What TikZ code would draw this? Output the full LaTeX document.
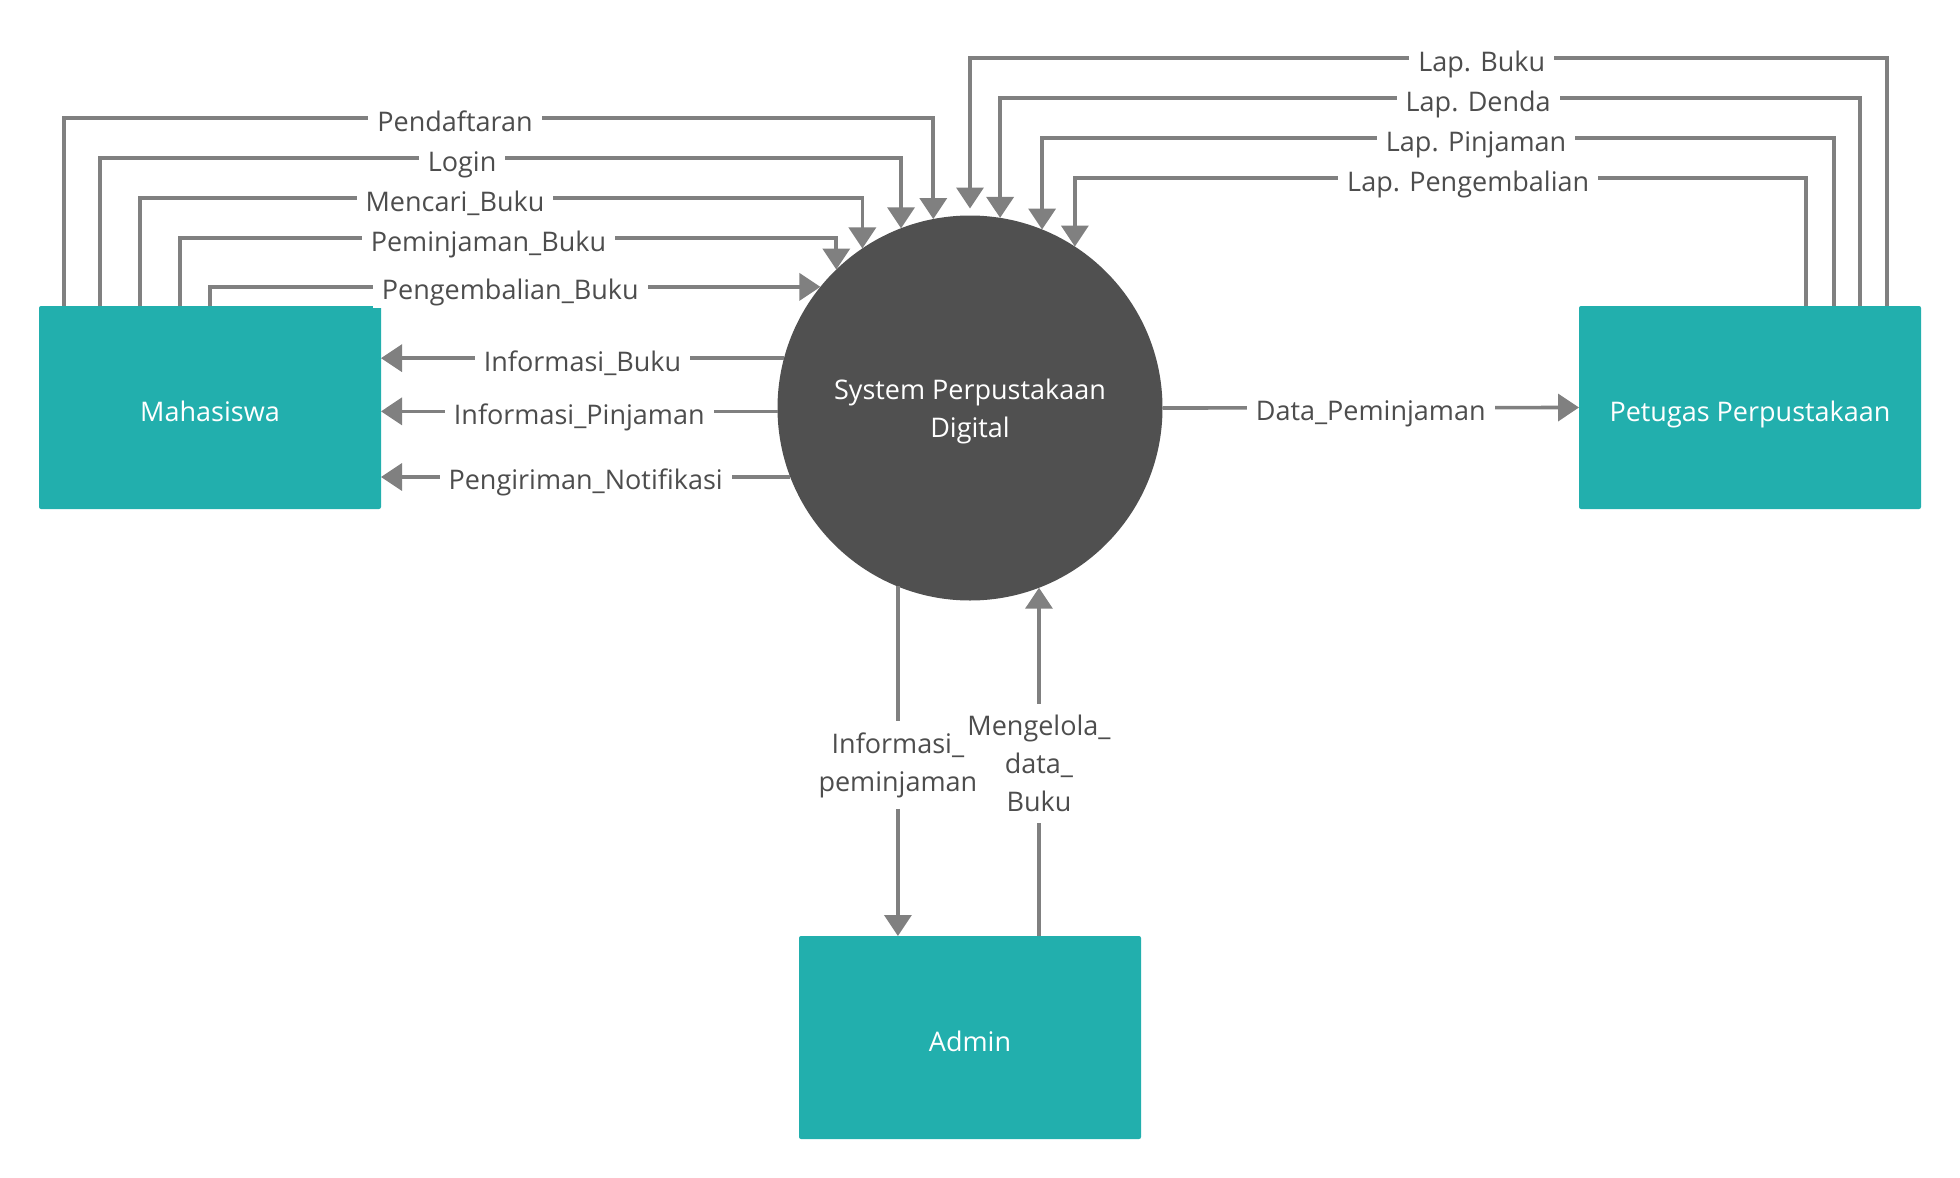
\documentclass[tikz,border=0pt]{standalone}
\usepackage{fontspec}
\setmainfont{Open Sans}
\usetikzlibrary{arrows.meta}

\definecolor{entteal}{RGB}{34,175,173}
\definecolor{procgray}{RGB}{80,80,80}
\definecolor{flowgray}{RGB}{128,128,128}
\definecolor{txtgray}{RGB}{77,77,77}

\begin{document}
\begin{tikzpicture}[x=0.5pt, y=-0.5pt]

      \tikzset{entity/.style={fill=entteal, text=white, minimum width=171pt, minimum height=101.5pt, inner sep=0pt, outer sep=0pt, rounded corners=1pt, text height=13.5pt, text depth=0pt},
               process/.style={circle, fill=procgray, text=white, minimum size=192.5pt, inner sep=0pt, outer sep=0pt, align=center, text depth=0pt},
               flow/.style={draw, color=flowgray, line width=1.8pt, -{Triangle[width=13.5pt, length=10.5pt]}},
               plain/.style={draw, color=flowgray, line width=1.8pt},
               lbl/.style={fill=white, text=txtgray, anchor=base, yshift=-6.5pt, inner xsep=4.5pt, inner ysep=1pt},
               vlbl/.style={text=txtgray, align=center, inner xsep=0pt, inner ysep=5.5pt},
               every node/.style={font=\fontsize{13.5}{19}\selectfont}}
      \useasboundingbox (0,0) rectangle (1960,1178);
%% Entities and process
      	\node[entity] (mah) at (210,407.5) {Mahasiswa};
      	\node[entity] (pet) at (1750,407.5) {Petugas Perpustakaan};
      	\node[entity] (adm) at (970,1037.5) {Admin};
      	\node[process] (sys) at (970,408) {System Perpustakaan\\Digital};
%% Labels of the Admin flows
      	\node[vlbl] (infl) at (sys.248.3 |- 0,765) {Informasi\_\\peminjaman};
      	\node[vlbl] (mgl) at (sys.291.7 |- 0,763.5) {Mengelola\_\\data\_\\Buku};
%Flows from Mahasiswa
		\draw [flow] ([xshift=12.4pt]mah.north west) -- ++(0,-188) -| node[lbl, pos=0.225] {Pendaftaran} (sys.101.69);
		\draw [flow] ([xshift=30.5pt]mah.north west) -- ++(0,-148) -| node[lbl, pos=0.226] {Login} (sys.111.96);
		\draw [flow] ([xshift=50.5pt]mah.north west) -- ++(0,-108) -| node[lbl, pos=0.218] {Mencari\_Buku} (sys.124.85);
		\draw [flow] ([xshift=70.5pt]mah.north west) -- ++(0,-68) -| node[lbl, pos=0.235] {Peminjaman\_Buku} (sys.134.53);
		\draw [flow] ([xshift=85.5pt]mah.north west) |- node[lbl, pos=0.746] {Pengembalian\_Buku} (sys.141.44);
%Flows to Mahasiswa
		\draw [flow] (sys.165.25) -- node[lbl, midway] {Informasi\_Buku} (sys.165.25 -| mah.east);
		\draw [flow] (sys.181.8) -- node[lbl, midway] {Informasi\_Pinjaman} (sys.181.8 -| mah.east);
		\draw [flow] (sys.201.3) -- node[lbl, midway] {Pengiriman\_Notifikasi} (sys.201.3 -| mah.east);
%Flows from Petugas
		\draw [flow, shorten >=3.5pt] ([xshift=154pt]pet.north west) -- ++(0,-248) -| node[lbl, pos=0.221] {Lap. Buku} (sys.90.6);
		\draw [flow] ([xshift=140.5pt]pet.north west) -- ++(0,-208) -| node[lbl, pos=0.222] {Lap. Denda} (sys.81.04);
		\draw [flow] ([xshift=127.5pt]pet.north west) -- ++(0,-168) -| node[lbl, pos=0.226] {Lap. Pinjaman} (sys.68.04);
		\draw [flow] ([xshift=113.5pt]pet.north west) -- ++(0,-128) -| node[lbl, pos=0.231] {Lap. Pengembalian} (sys.57.99);
		\draw [flow] (sys.east) -- node[lbl, midway] {Data\_Peminjaman} (pet.west);
%Flows with Admin
		\draw [plain] (sys.248.3) -- (infl.north);
		\draw [flow] (infl.south) -- (infl.south |- adm.north);
		\draw [plain] (mgl.south |- adm.north) -- (mgl.south);
		\draw [flow] (mgl.north) -- (sys.291.7);

	\end{tikzpicture}
\end{document}
